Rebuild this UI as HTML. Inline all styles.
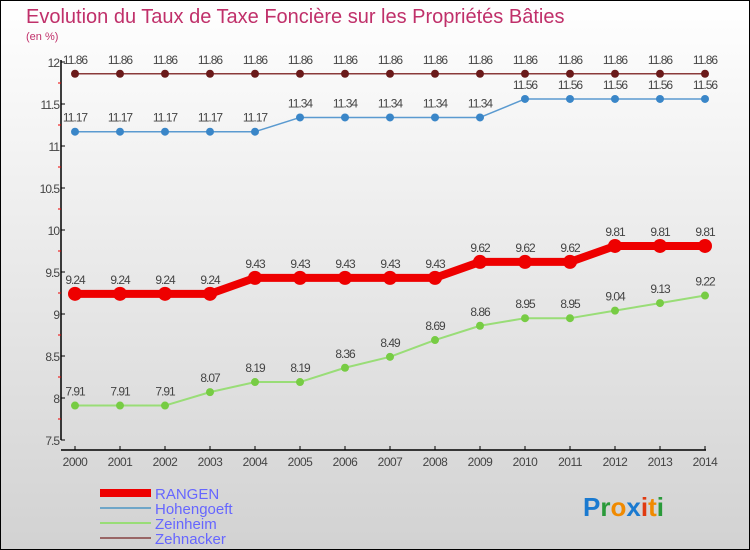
<!DOCTYPE html>
<html><head><meta charset="utf-8"><style>
body{margin:0}
#c{width:750px;height:550px;position:relative;overflow:hidden;font-family:"Liberation Sans",sans-serif}
</style></head><body>
<div id="c">
<svg width="750" height="550" xmlns="http://www.w3.org/2000/svg" id="svg">
<defs><linearGradient id="bg" x1="0" y1="0" x2="0" y2="1"><stop offset="0" stop-color="#ffffff"/><stop offset="1" stop-color="#d2d2d2"/></linearGradient></defs>
<rect x="0.5" y="0.5" width="749" height="549" fill="url(#bg)" stroke="#000"/>
<text x="26" y="23" font-size="20" fill="#c0306a">Evolution du Taux de Taxe Foncière sur les Propriétés Bâties</text>
<text x="26" y="40" font-size="11" fill="#c0306a">(en %)</text>
<g id="axes"></g><g id="series"></g>
<g>
<line x1="100" y1="493" x2="151" y2="493" stroke="#ee0000" stroke-width="8"/>
<text x="155" y="499" font-size="15" fill="#6666ff">RANGEN</text>
<line x1="100" y1="508" x2="151" y2="508" stroke="#6fa6c8" stroke-width="2"/>
<text x="155" y="514" font-size="15" fill="#6666ff">Hohengoeft</text>
<line x1="100" y1="523" x2="151" y2="523" stroke="#99dd77" stroke-width="2"/>
<text x="155" y="529" font-size="15" fill="#6666ff">Zeinheim</text>
<line x1="100" y1="538" x2="151" y2="538" stroke="#996666" stroke-width="2"/>
<text x="155" y="544" font-size="15" fill="#6666ff">Zehnacker</text>
</g>
<text x="583" y="516" font-size="26" font-weight="bold"><tspan fill="#1a7ad0">P</tspan><tspan fill="#2a9a3a">r</tspan><tspan fill="#f08a00">o</tspan><tspan fill="#1a7ad0">x</tspan><tspan fill="#e03a10">i</tspan><tspan fill="#f08a00">t</tspan><tspan fill="#2a9a3a">i</tspan></text>
</svg>
</div>
<script>
const years=[2000,2001,2002,2003,2004,2005,2006,2007,2008,2009,2010,2011,2012,2013,2014];
const yTicks=[7.5,8,8.5,9,9.5,10,10.5,11,11.5,12];
const rangen=[9.24,9.24,9.24,9.24,9.43,9.43,9.43,9.43,9.43,9.62,9.62,9.62,9.81,9.81,9.81];
const hohengoeft=[11.17,11.17,11.17,11.17,11.17,11.34,11.34,11.34,11.34,11.34,11.56,11.56,11.56,11.56,11.56];
const zeinheim=[7.91,7.91,7.91,8.07,8.19,8.19,8.36,8.49,8.69,8.86,8.95,8.95,9.04,9.13,9.22];
const zehnacker=[11.86,11.86,11.86,11.86,11.86,11.86,11.86,11.86,11.86,11.86,11.86,11.86,11.86,11.86,11.86];
const NS="http://www.w3.org/2000/svg";
const xS=i=>75+i*45;
const yS=v=>62+(12-v)*84;
function mk(t,a,p){const e=document.createElementNS(NS,t);for(const k in a)e.setAttribute(k,a[k]);p.appendChild(e);return e;}
const ax=document.getElementById('axes');
const yl=mk('line',{x1:61,y1:60,x2:61,y2:440,stroke:'#000','stroke-width':1.5},ax);


const xl=mk('line',{x1:61,y1:450,x2:706,y2:450,stroke:'#000','stroke-width':1.5},ax);


yTicks.forEach((v,i)=>{
 const y=yS(v);
 mk('line',{x1:61,y1:y,x2:65,y2:y,stroke:'#000'},ax);
 if(i<yTicks.length-1)mk('line',{x1:58,y1:y-21,x2:61,y2:y-21,stroke:'#e00'},ax);
 const t=mk('text',{x:59,y:y+5,'font-size':12,fill:'#444','text-anchor':'end','letter-spacing':'-1'},ax);
 t.textContent=String(v);
 
 
});
years.forEach((yr,i)=>{
 const x=xS(i);
 mk('line',{x1:x,y1:446,x2:x,y2:450,stroke:'#000'},ax);
 const t=mk('text',{x:x,y:466,'font-size':12,fill:'#444','text-anchor':'middle','letter-spacing':'-0.5'},ax);
 t.textContent=String(yr);
 
 
});
const sg=document.getElementById('series');
function draw(vals,name,color,dot,w,r){
 const g=mk('g',{},sg);
 
 
 const pts=vals.map((v,i)=>xS(i)+','+yS(v)).join(' ');
 mk('polyline',{points:pts,fill:'none',stroke:color,'stroke-width':w,'stroke-linejoin':'round'},g);
 vals.forEach((v,i)=>{
  const c=mk('circle',{cx:xS(i),cy:yS(v),r:r,fill:dot},g);
  
  
  const t=mk('text',{x:xS(i),y:yS(v)-10,'font-size':12,fill:'#444','text-anchor':'middle','letter-spacing':'-1'},g);
  t.textContent=v.toFixed(2).replace(/0$/,'').replace(/\.$/,'');
  
  
 });
}
draw(zehnacker,'zehnacker','#8a3a3a','#6a1a1a',1.5,4);
draw(hohengoeft,'hohengoeft','#5a9ad0','#3a86c8',1.5,4);
draw(zeinheim,'zeinheim','#99dd77','#77cc44',2,4);
draw(rangen,'rangen','#ee0000','#ee0000',8,7);
</script>
</body></html>
